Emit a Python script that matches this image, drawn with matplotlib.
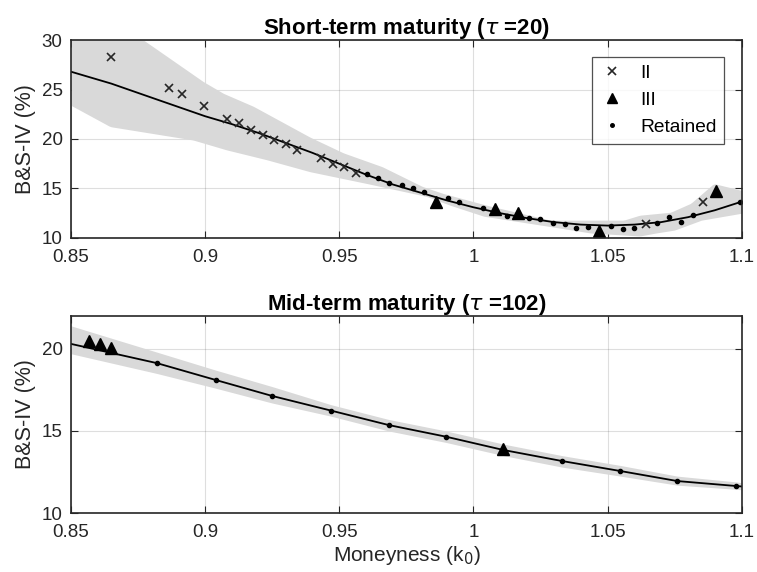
import numpy as np
import matplotlib.pyplot as plt

plt.rcParams['font.family'] = ['Liberation Sans', 'DejaVu Sans']

# ---- short-term (tau = 20) ----
st_fit_x = [0.85, 0.865, 0.883, 0.9, 0.91, 0.92, 0.93, 0.94, 0.95, 0.96, 0.97, 0.98, 0.99, 1.0,
            1.01, 1.02, 1.03, 1.04, 1.05, 1.06, 1.07, 1.08, 1.09, 1.1]
st_fit_y = [26.8, 25.6, 23.9, 22.3, 21.5, 20.6, 19.6, 18.6, 17.5, 16.4, 15.4, 14.6, 13.8, 13.1,
            12.5, 12.0, 11.6, 11.35, 11.25, 11.35, 11.6, 12.1, 12.8, 13.67]

st_up_x = [0.85, 0.877, 0.8993, 0.9069, 0.918, 0.939, 0.9515, 0.966, 0.981, 0.9887, 1.005, 1.0287,
           1.056, 1.062, 1.0735, 1.081, 1.0896, 1.1]
st_up_y = [33.0, 30.0, 25.8, 24.6, 23.3, 20.2, 18.6, 17.2, 15.2, 14.5, 13.3, 11.8,
           11.8, 12.3, 12.6, 13.5, 15.5, 14.8]
st_lo_x = [0.85, 0.8646, 0.8955, 0.908, 0.923, 0.939, 0.9603, 0.9825, 0.9914, 1.0038, 1.0287,
           1.0437, 1.062, 1.068, 1.075, 1.085, 1.1]
st_lo_y = [23.4, 21.25, 19.9, 18.9, 17.9, 16.7, 15.5, 14.2, 13.3, 12.2, 11.15,
           10.5, 10.2, 10.5, 10.8, 11.8, 12.5]

st_ii_x = [0.8649, 0.8867, 0.8913, 0.8996, 0.9083, 0.9127, 0.917, 0.9214, 0.9256, 0.93, 0.9343,
           0.9431, 0.9475, 0.9516, 0.9561, 1.0642, 1.0857]
st_ii_y = [28.25, 25.12, 24.55, 23.33, 22.0, 21.6, 20.9, 20.4, 19.9, 19.5, 18.9,
           18.05, 17.5, 17.2, 16.6, 11.4, 13.67]
st_iii_x = [0.9861, 1.0082, 1.0165, 1.0469, 1.0906]
st_iii_y = [13.67, 12.9, 12.5, 10.74, 14.7]
st_ret_x = [0.9603, 0.9646, 0.9687, 0.9734, 0.9775, 0.9817, 0.9905, 0.9948, 1.0036, 1.0125, 1.0207,
            1.025, 1.0296, 1.034, 1.0383, 1.0427, 1.0514, 1.0557, 1.0598, 1.0686, 1.0729, 1.0773,
            1.0818, 1.0993]
st_ret_y = [16.43, 16.03, 15.6, 15.4, 15.0, 14.6, 14.0, 13.67, 13.06, 12.2, 12.0,
            11.9, 11.5, 11.4, 11.0, 11.15, 11.2, 10.9, 11.0, 11.55, 12.15, 11.6,
            12.3, 13.67]

# ---- mid-term (tau = 102) ----
mt_fit_x = [0.85, 0.882, 0.904, 0.925, 0.9469, 0.9684, 0.9898, 1.0112, 1.033, 1.0548, 1.076, 1.0978, 1.1]
mt_fit_y = [20.3, 19.13, 18.1, 17.13, 16.24, 15.36, 14.65, 13.84, 13.17, 12.56, 11.95, 11.65, 11.62]
mt_up_y = [21.4, 19.8, 18.7, 17.7, 16.6, 15.7, 15.0, 14.2, 13.5, 12.9, 12.25, 11.9, 11.85]
mt_lo_y = [19.7, 18.5, 17.6, 16.7, 15.9, 15.0, 14.3, 13.5, 12.8, 12.25, 11.7, 11.45, 11.42]

mt_iii_x = [0.8567, 0.8608, 0.865, 1.0112]
mt_iii_y = [20.45, 20.29, 20.04, 13.9]
mt_ret_x = [0.882, 0.904, 0.925, 0.9469, 0.9684, 0.9898, 1.033, 1.0548, 1.076, 1.0978]
mt_ret_y = [19.13, 18.1, 17.13, 16.24, 15.36, 14.65, 13.17, 12.56, 11.95, 11.65]

band = '#d9d9d9'
xticks = [0.85, 0.9, 0.95, 1.0, 1.05, 1.1]
xticklabels = ['0.85', '0.9', '0.95', '1', '1.05', '1.1']


def style(ax):
    ax.set_xlim(0.85, 1.1)
    ax.set_xticks(xticks)
    ax.set_xticklabels(xticklabels)
    ax.grid(True, color='0.15', alpha=0.15, linewidth=0.8)
    ax.set_axisbelow(True)
    ax.tick_params(direction='in', top=True, right=True, length=5, labelsize=13.5, colors='0.15',
                   labelcolor='0.15', pad=6)
    ax.tick_params(axis='x', pad=8)
    for s in ax.spines.values():
        s.set_color('0.15')
        s.set_linewidth(1.2)
        s.set_zorder(5)


fig = plt.figure(figsize=(7.57, 5.72), dpi=100)
ax1 = fig.add_axes([0.0938, 0.584, 0.886, 0.346])
ax2 = fig.add_axes([0.0938, 0.103, 0.886, 0.3446])

# top panel
xg = np.linspace(0.85, 1.1, 300)
ax1.fill_between(xg, np.interp(xg, st_lo_x, st_lo_y), np.interp(xg, st_up_x, st_up_y),
                 color=band, linewidth=0, zorder=1)
ax1.plot(st_fit_x, st_fit_y, color='k', linewidth=1.3, zorder=2)
ax1.plot(st_ii_x, st_ii_y, 'x', color='0.15', markersize=6, markeredgewidth=1.2, label='II', zorder=3)
ax1.plot(st_iii_x, st_iii_y, '^', color='k', markersize=8, label='III', zorder=3)
ax1.plot(st_ret_x, st_ret_y, '.', color='k', markersize=6, label='Retained', zorder=3)
ax1.set_ylim(10, 30)
ax1.set_yticks([10, 15, 20, 25, 30])
ax1.set_ylabel('B&S-IV (%)', fontsize=15.5, color='0.15', labelpad=4)
ax1.set_title(r'Short-term maturity ($\tau$ =20)', fontsize=16, fontweight='bold', pad=4)
style(ax1)
leg = ax1.legend(loc='upper right', bbox_to_anchor=(0.974, 0.914), borderaxespad=0,
                 fontsize=13.8, frameon=True, fancybox=False, edgecolor='0.15',
                 handletextpad=0.8, borderpad=0.4, labelspacing=0.5, handlelength=1.3,
                 markerscale=0.85)
leg.get_frame().set_linewidth(0.9)

# bottom panel
ax2.fill_between(mt_fit_x, mt_lo_y, mt_up_y, color=band, linewidth=0, zorder=1)
ax2.plot(mt_fit_x, mt_fit_y, color='k', linewidth=1.3, zorder=2)
ax2.plot(mt_iii_x, mt_iii_y, '^', color='k', markersize=8, zorder=3)
ax2.plot(mt_ret_x, mt_ret_y, '.', color='k', markersize=6, zorder=3)
ax2.set_ylim(10, 22)
ax2.set_yticks([10, 15, 20])
ax2.set_ylabel('B&S-IV (%)', fontsize=15.5, color='0.15', labelpad=4)
ax2.set_xlabel('Moneyness (k$_0$)', fontsize=15, color='0.15', labelpad=2)
ax2.set_title(r'Mid-term maturity ($\tau$ =102)', fontsize=16, fontweight='bold', pad=4)
style(ax2)

fig.savefig('out.png', dpi=100)
